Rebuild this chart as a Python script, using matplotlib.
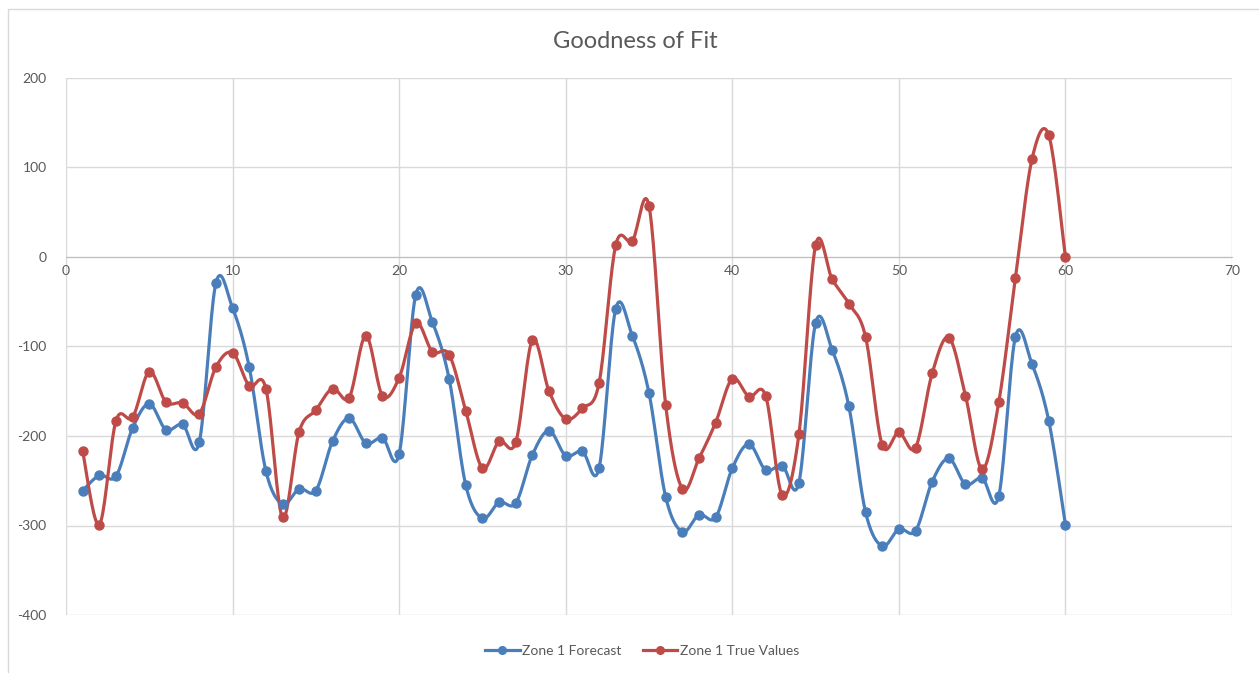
import numpy as np
import matplotlib as mpl
mpl.use('Agg')
import matplotlib.pyplot as plt
from matplotlib.patches import Rectangle

x = list(range(1, 61))
forecast = [-261, -244, -245, -191, -164, -193, -187, -207, -29, -57,
            -123, -239, -276, -259, -261, -206, -180, -208, -202, -220,
            -42, -73, -136, -255, -292, -274, -275, -221, -194, -222,
            -217, -236, -58, -88, -152, -268, -307, -288, -291, -236,
            -209, -238, -233, -252, -74, -104, -167, -285, -323, -304,
            -306, -251, -225, -254, -247, -267, -89, -120, -183, -299]
true_values = [-217, -299, -183, -179, -128, -162, -163, -175, -123, -107,
               -144, -147, -291, -195, -171, -147, -157, -88, -155, -135,
               -74, -106, -109, -172, -236, -206, -207, -93, -150, -181,
               -169, -141, 13, 18, 57, -165, -259, -225, -185, -136,
               -156, -155, -266, -198, 13, -25, -52, -89, -210, -196,
               -213, -130, -90, -155, -237, -162, -23, 110, 136, 0]

BLUE = '#4A7EBB'
RED = '#BE4B48'
GRID = '#D9D9D9'
TEXT = '#595959'


def smooth(xs, ys, n=20):
    # Excel-style smoothed line: cubic bezier with catmull-rom control points
    xs = np.asarray(xs, float)
    ys = np.asarray(ys, float)
    px = np.concatenate([[xs[0]], xs, [xs[-1]]])
    py = np.concatenate([[ys[0]], ys, [ys[-1]]])
    outx, outy = [], []
    t = np.linspace(0, 1, n)
    for i in range(1, len(px) - 2):
        p0 = np.array([px[i], py[i]])
        p3 = np.array([px[i + 1], py[i + 1]])
        c1 = p0 + (np.array([px[i + 1], py[i + 1]]) - np.array([px[i - 1], py[i - 1]])) / 6
        c2 = p3 - (np.array([px[i + 2], py[i + 2]]) - np.array([px[i], py[i]])) / 6
        b = ((1 - t)[:, None] ** 3 * p0 + 3 * ((1 - t) ** 2 * t)[:, None] * c1
             + 3 * ((1 - t) * t ** 2)[:, None] * c2 + (t ** 3)[:, None] * p3)
        outx.extend(b[:, 0])
        outy.extend(b[:, 1])
    return outx, outy


plt.rcParams['font.family'] = ['Lato', 'DejaVu Sans']
plt.rcParams['axes.unicode_minus'] = False

fig = plt.figure(figsize=(12.59, 6.73), dpi=100)
ax = fig.add_axes([66 / 1259, 1 - 615 / 673, (1232 - 66) / 1259, (615 - 78) / 673])

fig.patches.append(Rectangle((8 / 1259, -0.01), 1.02, 1 - 9 / 673 + 0.01,
                             transform=fig.transFigure, fill=False,
                             edgecolor='#D9D9D9', linewidth=1.0))

for ys, col, lab in [(forecast, BLUE, 'Zone 1 Forecast'),
                     (true_values, RED, 'Zone 1 True Values')]:
    sx, sy = smooth(x, ys)
    ax.plot(sx, sy, color=col, linewidth=2.3, zorder=3)
    ax.plot(x, ys, linestyle='none', marker='o', markersize=6.5, color=col, zorder=4)
    ax.plot([], [], color=col, linewidth=2.3, marker='o', markersize=5.5, label=lab)

ax.set_xlim(0, 70)
ax.set_ylim(-400, 200)
ax.set_xticks(range(0, 71, 10))
ax.set_yticks(range(-400, 201, 100))
ax.grid(True, color=GRID, linewidth=1.0)
ax.set_axisbelow(True)
for s in ['top', 'right', 'left']:
    ax.spines[s].set_visible(False)
ax.spines['bottom'].set_position(('data', 0))
ax.spines['bottom'].set_color('#BFBFBF')
ax.tick_params(axis='both', length=0, colors=TEXT, labelsize=10)
ax.tick_params(axis='y', pad=14)
ax.tick_params(axis='x', pad=6)

fig.text(0.505, 1 - 42 / 673, 'Goodness of Fit', ha='center', va='center',
         fontsize=17, color=TEXT)

leg = fig.legend(loc='center', bbox_to_anchor=(0.51, 1 - 651 / 673), ncol=2,
                 frameon=False, fontsize=10, handlelength=2.5,
                 handletextpad=0.2, columnspacing=1.5)
for t in leg.get_texts():
    t.set_color(TEXT)

fig.savefig('out.png', dpi=100)
